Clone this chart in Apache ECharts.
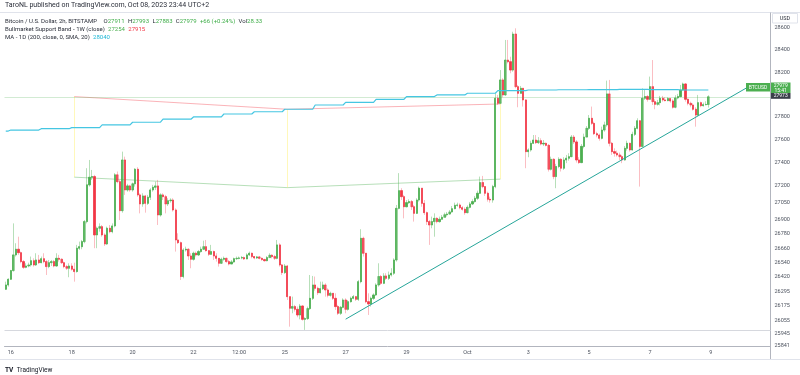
<!DOCTYPE html>
<html><head><meta charset="utf-8">
<script src="https://cdn.jsdelivr.net/npm/echarts@6/dist/echarts.min.js"></script>
<style>html,body{margin:0;padding:0;background:#fff}#c{width:800px;height:375px}</style>
</head><body><div id="c"></div>
<script>
// ---- data (BTCUSD 2h, Bitstamp) ----
const FIRST_OPEN = 26313;
const closes = [
26349,26397,26470,26603,26651,26622,26546,26498,26509,26518,
26554,26518,26560,26537,26571,26546,26504,26537,26546,26509,
26574,26566,26537,26504,26490,26509,26482,26462,26660,26673,
26716,26887,27204,27270,27276,26773,26830,26844,26773,26696,
26830,26801,26850,27291,27232,26981,27421,27160,27195,27160,
27213,27340,27117,27039,27108,27044,27097,27160,27183,27195,
26944,27117,27102,27039,27067,27073,26987,26730,
26707,26420,26645,26651,26594,26566,26617,26603,26631,26651,
26673,26639,26608,26631,26594,26574,26532,26566,26574,26546,
26526,26543,26571,26574,26577,26580,26569,26603,26617,26589,
26577,26586,26574,26563,26554,26580,26600,26589,26574,26688,
26518,26453,26509,26251,26154,26168,26145,26098,26173,26062,
26068,26151,26237,26349,26321,26284,26318,26349,26307,26262,
26279,26237,26168,26112,26162,26223,26145,26209,26237,26251,26229,
26377,26744,26617,26209,26190,26237,26265,26349,26420,26363,
26425,26405,26433,26448,26560,27001,27154,27102,27015,27050,
27059,27015,26958,27073,27175,27044,26964,26887,26858,26887,
26915,26887,26907,26924,26946,26952,26970,26998,27027,27030,
27007,26993,26964,27010,27039,27059,27088,27131,27224,27189,
27131,27079,27073,27189,27966,27921,28130,27996,28309,28294,
28219,28545,28070,28010,28055,27951,27494,27509,27567,27596,
27573,27590,27561,27567,27549,27340,27427,27276,27364,27427,
27349,27421,27436,27450,27622,27579,27421,27398,27540,27622,
27699,27788,27743,27652,27640,27611,27684,27729,28005,27567,
27494,27480,27465,27450,27421,27523,27567,27509,27646,27699,
27766,27540,27966,27981,27957,28070,27936,27912,27927,27966,
27951,27945,27963,27942,27886,27969,27981,28040,28094,27957,
27921,27906,27868,27817,27927,27900,27909,27911,27979];
const highs = [
26377,26405,26476,26872,26702,26758,26631,26560,26532,26537,
26589,26574,26617,26603,26589,26617,26560,26560,26560,26560,
26617,26603,26574,26546,26518,26532,26532,26537,26688,26716,
26730,26901,27349,27421,27334,27291,26844,26872,26858,26787,
26844,26858,26872,27306,27320,27247,27494,27450,27213,27204,
27224,27349,27358,27131,27131,27117,27117,27175,27204,27232,
27247,27131,27131,27117,27088,27088,27088,27001,
26787,26716,26660,26673,26660,26617,26631,26631,26645,26673,
26724,26730,26645,26688,26639,26617,26574,26580,26589,26580,
26560,26560,26580,26589,26589,26594,26589,26617,26631,26622,
26594,26594,26594,26580,26571,26594,26617,26608,26603,26730,
26702,26526,26526,26518,26251,26251,26182,26168,26190,26179,
26079,26168,26433,26425,26420,26335,26377,26377,26363,26321,
26293,26279,26279,26182,26173,26237,26237,26223,26251,26265,26257,
26391,26822,26758,26617,26279,26251,26279,26363,26532,26433,
26448,26448,26462,26490,26574,27030,27306,27175,27117,27073,
27079,27073,27030,27088,27189,27175,27073,26973,26901,26930,
26958,26924,26930,26944,26964,26970,26987,27021,27050,27050,
27044,27021,27010,27027,27056,27079,27108,27154,27276,27282,
27189,27145,27102,27204,28010,27996,28219,28145,28491,28491,
28339,28566,28597,28085,28076,28055,27957,27523,27590,27640,
27640,27622,27611,27596,27573,27561,27450,27436,27387,27445,
27436,27445,27465,27480,27640,27640,27596,27445,27561,27652,
27719,27817,27892,27758,27669,27652,27714,27758,28124,28130,
27579,27523,27503,27486,27465,27543,27590,27573,27669,27719,
27788,27773,28055,28040,27996,28160,28309,27957,27951,27987,
27987,27975,27975,27969,27957,27993,28005,28085,28106,28100,
27963,27936,27921,27886,27996,27936,27927,27939,27993];
const lows = [
26307,26335,26391,26462,26589,26603,26532,26484,26490,26498,
26504,26504,26509,26526,26532,26532,26433,26490,26509,26498,
26504,26546,26526,26490,26476,26414,26470,26377,26453,26645,
26651,26702,26872,27189,27247,26660,26660,26801,26758,26679,
26688,26787,26787,26838,27218,26901,26964,27117,27145,27145,
27145,27189,27102,26958,27015,26964,27030,27073,27145,27160,
26858,26930,27073,26958,27021,27050,26973,26631,
26696,26391,26405,26631,26560,26490,26554,26589,26594,26622,
26645,26631,26594,26603,26560,26546,26504,26526,26554,26537,
26514,26526,26537,26560,26566,26566,26560,26566,26594,26574,
26566,26569,26566,26554,26546,26549,26580,26574,26560,26566,
26504,26433,26442,26223,26001,26112,26126,26079,26062,26051,
25974,26057,26140,26223,26301,26265,26279,26307,26251,26245,
26251,26223,26140,26098,26098,26154,26112,26134,26201,26229,26215,
26215,26363,26589,26196,26098,26168,26223,26257,26335,26349,
26356,26391,26391,26420,26433,26546,26993,27073,26915,27010,
27039,26987,26887,26952,27059,27015,26944,26858,26688,26830,
26758,26872,26878,26907,26924,26930,26946,26964,26993,27015,
26993,26981,26946,26958,27001,27030,27050,27073,27125,27175,
27108,27059,27050,27050,27175,27906,27915,27975,27987,28279,
28190,28204,28055,27886,28016,27892,27349,27445,27494,27561,
27561,27561,27549,27543,27540,27320,27329,27253,27175,27349,
27320,27334,27393,27415,27445,27561,27398,27387,27393,27523,
27620,27684,27729,27640,27620,27590,27602,27669,27714,27540,
27465,27450,27450,27421,27393,27415,27503,27494,27503,27631,
27690,27189,27537,27951,27936,27951,27906,27868,27900,27903,
27936,27939,27940,27927,27874,27877,27957,27975,28034,27936,
27903,27886,27856,27714,27808,27886,27892,27903,27883];
// MA 1D (200 SMA), one value per day: Sep 15 .. Oct 8
const maDaily = [27675,27684,27696,27705,27729,27753,27780,27800,27826,27846,27868,27906,27930,27957,27981,27996,28011,28034,28040,28042,28044,28045,28043,28040];
// Bull market support band, weekly points (candle index of week start)
const bandWeekIdx = [27, 111, 195];
const bandEma = [27981, 27868, 27915];
const bandSma = [27271, 27180, 27254];
// drawn trend line: [candle index, price]
const trendline = [[134, 26063], [292, 28058]];
const lastPrice = 27979;
const hLinePrice = 25974;
const priceTicks = [28600,28400,28200,27800,27600,27400,27200,27050,26900,26780,26660,26540,26420,26295,26175,26055,25945,25841];
const timeTicks = [
 ['2023-09-16 00:00','16'],['2023-09-18 00:00','18'],['2023-09-20 00:00','20'],['2023-09-22 00:00','22'],
 ['2023-09-23 12:00','12:00'],['2023-09-25 00:00','25'],['2023-09-27 00:00','27'],['2023-09-29 00:00','29'],
 ['2023-10-01 00:00','Oct'],['2023-10-03 00:00','3'],['2023-10-05 00:00','5'],['2023-10-07 00:00','7'],['2023-10-09 00:00','9']];

// ---- build ----
const FONT = 'Roboto, "Noto Sans", sans-serif';
const UP = '#4caf50', DOWN = '#f23645';
const WUP = 'rgba(76,175,80,0.4)', WDOWN = 'rgba(242,54,69,0.32)';
const SLOTS = 302;
const start = Date.UTC(2023, 8, 15, 20);
const pad = n => String(n).padStart(2, '0');
const categories = [];
for (let i = 0; i < SLOTS; i++) {
  const d = new Date(start + i * 7200000);
  categories.push(d.getUTCFullYear() + '-' + pad(d.getUTCMonth() + 1) + '-' + pad(d.getUTCDate()) + ' ' + pad(d.getUTCHours()) + ':00');
}
const tickMap = new Map(timeTicks);
const opens = closes.map((c, i) => i === 0 ? FIRST_OPEN : closes[i - 1]);
const wickData = closes.map((c, i) => [opens[i], c, Math.min(lows[i], opens[i], c), Math.max(highs[i], opens[i], c)]);
const bodyData = closes.map((c, i) => [opens[i], c, Math.min(opens[i], c), Math.max(opens[i], c)]);
const maData = closes.map((c, i) => maDaily[Math.floor((i + 10) / 12)]);

const chart = echarts.init(document.getElementById('c'), null, {renderer: 'canvas'});
chart.setOption({
  animation: false,
  backgroundColor: '#ffffff',
  textStyle: {fontFamily: FONT},
  grid: {left: 4.5, right: 29.5, top: 14, bottom: 29, containLabel: false},
  xAxis: {
    type: 'category', data: categories, boundaryGap: true,
    axisLine: {show: true, lineStyle: {color: '#b2b5be', width: 1}},
    axisTick: {show: false}, splitLine: {show: false},
    axisLabel: {
      interval: (idx, val) => tickMap.has(val),
      formatter: v => tickMap.get(v) || '',
      fontSize: 5.5, color: '#4c525e', margin: 4, fontFamily: FONT
    }
  },
  yAxis: {
    type: 'log', logBase: 10, position: 'right', min: 25841, max: 28728, scale: true,
    axisLine: {show: false}, axisTick: {show: false}, splitLine: {show: false},
    axisLabel: {
      customValues: priceTicks, formatter: v => String(Math.round(v)),
      fontSize: 5.5, color: '#4c525e', margin: 4, fontFamily: FONT,
      showMinLabel: true, showMaxLabel: true
    }
  },
  series: [
    {
      name: 'band21', type: 'line', symbol: 'none', silent: true, z: 2,
      data: bandWeekIdx.map((k, j) => [k, bandEma[j]]),
      lineStyle: {color: 'rgba(242,54,69,0.38)', width: 1},
      markLine: {
        silent: true, symbol: ['none', 'none'], label: {show: false},
        lineStyle: {color: 'rgba(255,235,59,0.35)', width: 1, type: 'solid'},
        data: bandWeekIdx.map((k, j) => [{coord: [categories[k], bandEma[j]]}, {coord: [categories[k], bandSma[j]]}])
      }
    },
    {
      name: 'band20', type: 'line', symbol: 'none', silent: true, z: 2,
      data: bandWeekIdx.map((k, j) => [k, bandSma[j]]),
      lineStyle: {color: 'rgba(76,175,80,0.4)', width: 1}
    },
    {
      name: 'wicks', type: 'candlestick', data: wickData, barWidth: 1.8, silent: true, z: 3,
      itemStyle: {color: WUP, color0: WDOWN, borderColor: WUP, borderColor0: WDOWN, borderWidth: 1}
    },
    {
      name: 'BTCUSD', type: 'candlestick', data: bodyData, barWidth: 1.6, silent: true, z: 4,
      itemStyle: {color: UP, color0: DOWN, borderColor: UP, borderColor0: DOWN, borderWidth: 0.6},
      markLine: {
        silent: true, symbol: ['none', 'none'], label: {show: false},
        data: [
          {yAxis: lastPrice, lineStyle: {color: 'rgba(76,175,80,0.25)', width: 1, type: 'solid'}},
          {yAxis: hLinePrice, lineStyle: {color: '#d6d8de', width: 1, type: 'solid'}}
        ]
      }
    },
    {
      name: 'MA', type: 'line', symbol: 'none', silent: true, z: 5, data: maData,
      lineStyle: {color: '#45c6e2', width: 1.2}
    },
    {
      name: 'trend', type: 'line', symbol: 'none', silent: true, z: 6, data: trendline,
      lineStyle: {color: '#26a69a', width: 1}
    }
  ],
  graphic: [
    {type: 'text', left: 5, top: 1.5, style: {text: 'TaroNL published on TradingView.com, Oct 08, 2023 23:44 UTC+2', font: '7px ' + FONT, fill: '#2a2e39'}},
    {type: 'line', shape: {x1: 0, y1: 12.5, x2: 800, y2: 12.5}, style: {stroke: '#e0e3eb', lineWidth: 1}},
    {type: 'line', shape: {x1: 770.5, y1: 12.5, x2: 770.5, y2: 359.5}, style: {stroke: '#b2b5be', lineWidth: 1}},
    {type: 'line', shape: {x1: 0, y1: 359.5, x2: 800, y2: 359.5}, style: {stroke: '#e0e3eb', lineWidth: 1}},
    {type: 'text', x: 5, y: 15, style: {
      text: '{t|Bitcoin / U.S. Dollar, 2h, BITSTAMP}  {t|O}{g|27911} {t|H}{g|27993} {t|L}{g|27883} {t|C}{g|27979} {g|+66 (+0.24%)} {t|Vol}{g|28.33}',
      rich: {t: {fontSize: 6, fontFamily: FONT, fill: '#2a2e39'}, g: {fontSize: 6, fontFamily: FONT, fill: '#3fae49'}}}},
    {type: 'text', x: 5, y: 23, style: {
      text: '{t|Bullmarket Support Band - 1W (close)} {g|27254} {r|27915}',
      rich: {t: {fontSize: 6, fontFamily: FONT, fill: '#2a2e39'}, g: {fontSize: 6, fontFamily: FONT, fill: '#4caf50'}, r: {fontSize: 6, fontFamily: FONT, fill: '#f23645'}}}},
    {type: 'text', x: 5, y: 31, style: {
      text: '{t|MA - 1D (200, close, 0, SMA, 20)} {c|28040}',
      rich: {t: {fontSize: 6, fontFamily: FONT, fill: '#2a2e39'}, c: {fontSize: 6, fontFamily: FONT, fill: '#1fb8d6'}}}},
    {type: 'rect', shape: {x: 772.5, y: 13.5, width: 25, height: 9.5}, style: {fill: '#fff', stroke: '#e0e3eb', lineWidth: 1}},
    {type: 'text', x: 785, y: 18.5, style: {text: 'USD', font: '5.5px ' + FONT, fill: '#2a2e39', align: 'center', verticalAlign: 'middle'}},
    {type: 'rect', shape: {x: 746, y: 83, width: 24, height: 8.5}, style: {fill: '#4caf50'}},
    {type: 'text', x: 758, y: 87.3, style: {text: 'BTCUSD', font: '5px ' + FONT, fill: '#fff', align: 'center', verticalAlign: 'middle'}},
    {type: 'rect', shape: {x: 771, y: 82.5, width: 19.5, height: 10.5}, style: {fill: '#4caf50'}},
    {type: 'text', x: 780.7, y: 85.3, style: {text: String(lastPrice), font: '5px ' + FONT, fill: '#fff', align: 'center', verticalAlign: 'middle'}},
    {type: 'text', x: 780.7, y: 90.3, style: {text: '15:41', font: '5px ' + FONT, fill: '#fff', align: 'center', verticalAlign: 'middle'}},
    {type: 'rect', shape: {x: 771, y: 93, width: 19.5, height: 5.8}, style: {fill: '#3b3f4a'}},
    {type: 'text', x: 780.7, y: 96, style: {text: '27973', font: '5px ' + FONT, fill: '#fff', align: 'center', verticalAlign: 'middle'}},
    {type: 'text', x: 5, y: 364.5, style: {text: '{b|TV} {t|TradingView}', rich: {b: {fontSize: 6.5, fontWeight: 'bold', fontFamily: FONT, fill: '#131722'}, t: {fontSize: 6.5, fontFamily: FONT, fill: '#131722'}}}}
  ]
});
</script>
</body></html>
